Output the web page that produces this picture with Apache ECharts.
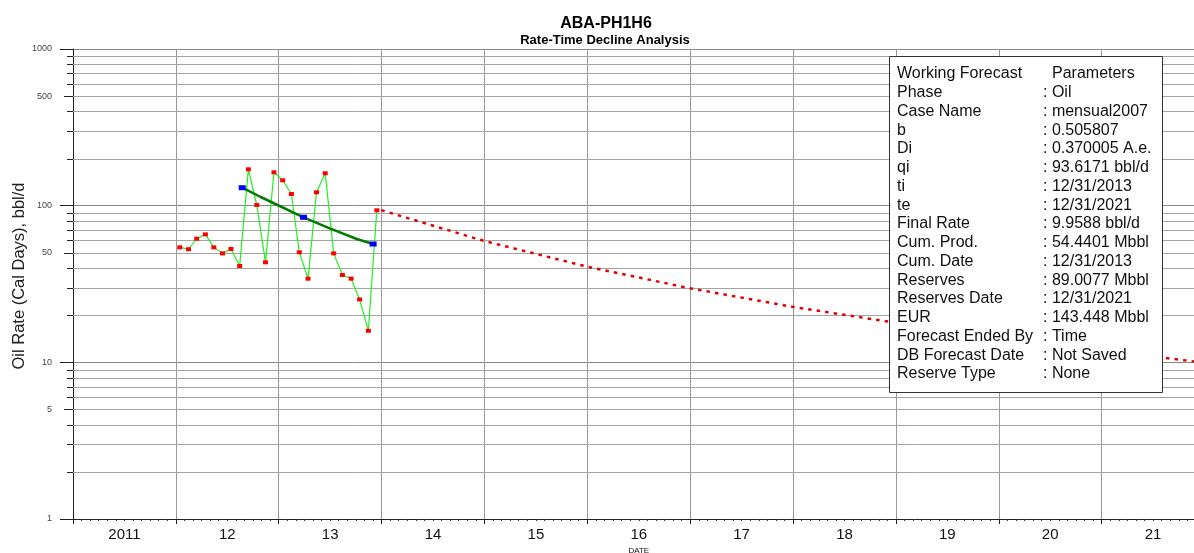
<!DOCTYPE html>
<html>
<head>
<meta charset="utf-8">
<script src="https://cdn.jsdelivr.net/npm/echarts@6/dist/echarts.min.js"></script>
<style>
  html, body { margin: 0; padding: 0; background: #fff; overflow: hidden; }
  #chart { width: 1194px; height: 553px; }
</style>
</head>
<body>
<div id="chart"></div>
<script>
// Year band labels along the date axis
const yearLabels = ['2011', '12', '13', '14', '15', '16', '17', '18', '19', '20', '21'];

// Monthly oil rate history, bbl/d
const prodDates = [
  '2012-01-15', '2012-02-15', '2012-03-15', '2012-04-15', '2012-05-15', '2012-06-15',
  '2012-07-15', '2012-08-15', '2012-09-15', '2012-10-15', '2012-11-15', '2012-12-15',
  '2013-01-15', '2013-02-15', '2013-03-15', '2013-04-15', '2013-05-15', '2013-06-15',
  '2013-07-15', '2013-08-15', '2013-09-15', '2013-10-15', '2013-11-15', '2013-12-15'
];
const prodRates = [
  54.2, 52.7, 61.5, 65.6, 54.2, 49.6,
  52.9, 41.2, 170.6, 101, 43.5, 163.3,
  145.2, 118.7, 50.4, 34.2, 121.7, 160.9,
  49.6, 36.1, 34.2, 25.2, 15.9, 93.4
];

// Decline fit through the history (handles at first, middle and last point)
const fitDates = ['2012-08-24', '2012-10-27', '2013-03-30', '2013-07-01', '2013-10-05', '2013-12-02'];
const fitRates = [130.2, 114, 84.3, 71.7, 61.3, 56.9];
const fitHandles = [0, 2, 5];

// Working forecast, bbl/d
const forecastDates = ['2013-12-31', '2014-12-31', '2015-12-31', '2016-12-31', '2017-12-31',
                       '2018-12-31', '2019-12-31', '2020-12-31', '2021-12-31'];
const forecastRates = [93.6, 59.5, 40.8, 29.7, 22.6, 17.9, 14.4, 11.9, 9.96];

// Rate axis gridlines between the decades, and the ones that carry a label
const yMinorGrid = [2, 3, 4, 5, 6, 7, 8, 9, 20, 30, 40, 50, 60, 70, 80, 90, 200, 300, 400, 500, 600, 700, 800, 900];
const yMidLabels = [5, 50, 500];

// Parameter box
const paramLabels = ['Working Forecast', 'Phase', 'Case Name', 'b', 'Di', 'qi', 'ti', 'te', 'Final Rate',
  'Cum. Prod.', 'Cum. Date', 'Reserves', 'Reserves Date', 'EUR', 'Forecast Ended By',
  'DB Forecast Date', 'Reserve Type'];
const paramValues = ['Parameters', 'Oil', 'mensual2007', '0.505807', '0.370005 A.e.', '93.6171 bbl/d',
  '12/31/2013', '12/31/2021', '9.9588 bbl/d', '54.4401 Mbbl', '12/31/2013', '89.0077 Mbbl',
  '12/31/2021', '143.448 Mbbl', 'Time', 'Not Saved', 'None'];

const FONT = '"Liberation Sans", Arial, sans-serif';
const X_MIN = 2011, X_MAX = 2022;

// Calendar date -> fractional year
function toYear(s) {
  const d = new Date(s + 'T00:00:00Z');
  const y = d.getUTCFullYear();
  const a = Date.UTC(y, 0, 1), b = Date.UTC(y + 1, 0, 1);
  return y + (d.getTime() - a) / (b - a);
}
const pair = (dates, vals) => dates.map((d, i) => [toYear(d), vals[i]]);

const crisp = v => Math.round(v) + 0.5;

const chart = echarts.init(document.getElementById('chart'), null, { renderer: 'canvas' });

const boxX = 889.5, boxY = 56.5, boxW = 273, boxH = 336;
const rowY0 = 74, rowStep = 18.75;
const boxChildren = [{
  type: 'rect', z: 100, shape: { x: boxX, y: boxY, width: boxW, height: boxH },
  style: { fill: '#fff', stroke: '#333', lineWidth: 1 }
}];
paramLabels.forEach((t, i) => {
  boxChildren.push({
    type: 'text', z: 101, x: 897, y: rowY0 + i * rowStep,
    style: { text: t, fill: '#111', font: '16px ' + FONT, textAlign: 'left', textVerticalAlign: 'middle', align: 'left', verticalAlign: 'middle' }
  });
  const v = i === 0 ? paramValues[i] : ': ' + paramValues[i];
  boxChildren.push({
    type: 'text', z: 101, x: i === 0 ? 1052 : 1043, y: rowY0 + i * rowStep,
    style: { text: v, fill: '#111', font: '16px ' + FONT, textAlign: 'left', textVerticalAlign: 'middle', align: 'left', verticalAlign: 'middle' }
  });
});

const option = {
  animation: false,
  backgroundColor: '#fff',
  textStyle: { fontFamily: FONT },
  title: [
    { text: 'ABA-PH1H6', left: 601, top: 11, textAlign: 'center',
      textStyle: { fontSize: 16, fontWeight: 'bold', color: '#000', fontFamily: FONT } },
    { text: 'Rate-Time Decline Analysis', left: 600, top: 29, textAlign: 'center',
      textStyle: { fontSize: 13, fontWeight: 'bold', color: '#000', fontFamily: FONT } }
  ],
  grid: { left: 73, top: 49, bottom: 34, right: -10.5, containLabel: false, outerBoundsMode: 'none' },
  xAxis: [
    {
      type: 'category', data: yearLabels, boundaryGap: true, position: 'bottom',
      axisLine: { show: true, lineStyle: { color: '#222', width: 1 } },
      axisTick: { show: true, length: 5, alignWithLabel: false, lineStyle: { color: '#222' } },
      axisLabel: { fontSize: 15, color: '#111', margin: 8, fontFamily: FONT },
      splitLine: { show: true, lineStyle: { color: '#999', width: 1 } },
      name: 'DATE', nameLocation: 'middle', nameGap: 21,
      nameTextStyle: { fontSize: 8, color: '#111', fontFamily: FONT }
    },
    {
      type: 'value', min: X_MIN, max: X_MAX, interval: 1, position: 'bottom',
      axisLine: { show: false }, axisTick: { show: false }, axisLabel: { show: false },
      splitLine: { show: false },
      minorTick: { show: true, splitNumber: 12, length: 2, lineStyle: { color: '#333' } }
    }
  ],
  yAxis: {
    type: 'log', logBase: 10, min: 1, max: 1000,
    axisLine: { show: true, lineStyle: { color: '#222', width: 1 } },
    axisTick: { show: true, length: 13, lineStyle: { color: '#222' } },
    axisLabel: { fontSize: 9, color: '#444', margin: 21, fontFamily: FONT, formatter: v => String(v) },
    splitLine: { show: true, lineStyle: { color: '#888', width: 1 } }
  },
  graphic: [
    {
      type: 'text', x: 19, y: 276, rotation: Math.PI / 2,
      style: { text: 'Oil Rate (Cal Days), bbl/d', fill: '#222', font: '16.5px ' + FONT,
               textAlign: 'center', textVerticalAlign: 'middle', align: 'center', verticalAlign: 'middle' }
    },
    { type: 'group', z: 100, children: boxChildren }
  ],
  series: [
    {
      // decade subdivisions: full-width gridline, outer tick and optional label
      type: 'custom', xAxisIndex: 1, yAxisIndex: 0, z: 1, silent: true, clip: false,
      data: yMinorGrid.map(v => [X_MIN, v]),
      renderItem(params, api) {
        const v = api.value(1);
        const a = api.coord([X_MIN, v]);
        const b = api.coord([X_MAX, v]);
        const y = crisp(a[1]);
        const mid = yMidLabels.indexOf(v) >= 0;
        const children = [
          { type: 'line', shape: { x1: a[0], y1: y, x2: b[0], y2: y }, style: { stroke: '#a4a4a4', lineWidth: 1 } },
          { type: 'line', shape: { x1: a[0] - (mid ? 9 : 6), y1: y, x2: a[0], y2: y }, style: { stroke: '#222', lineWidth: 1 } }
        ];
        if (mid) {
          children.push({
            type: 'text', x: a[0] - 21, y: a[1],
            style: { text: String(v), fill: '#444', font: '9px ' + FONT,
                     textAlign: 'right', textVerticalAlign: 'middle', align: 'right', verticalAlign: 'middle' }
          });
        }
        return { type: 'group', children };
      }
    },
    {
      name: 'History', type: 'line', xAxisIndex: 1, yAxisIndex: 0, z: 4,
      data: pair(prodDates, prodRates),
      lineStyle: { color: '#22ee22', width: 1.2 },
      symbol: 'rect', symbolSize: [5, 4], showSymbol: true,
      itemStyle: { color: '#ff0000' }
    },
    {
      name: 'Fit', type: 'line', xAxisIndex: 1, yAxisIndex: 0, z: 5,
      data: pair(fitDates, fitRates).map((p, i) => ({
        value: p,
        symbol: fitHandles.indexOf(i) >= 0 ? 'rect' : 'none',
        symbolSize: [7, 5]
      })),
      lineStyle: { color: '#007a00', width: 2.5 },
      itemStyle: { color: '#0000ff' },
      showSymbol: true
    },
    {
      name: 'Forecast', type: 'line', xAxisIndex: 1, yAxisIndex: 0, z: 4,
      data: pair(forecastDates, forecastRates),
      lineStyle: { color: '#e00000', width: 2.5, type: [3.5, 5.1] },
      symbol: 'none'
    }
  ]
};

chart.setOption(option);
</script>
</body>
</html>
